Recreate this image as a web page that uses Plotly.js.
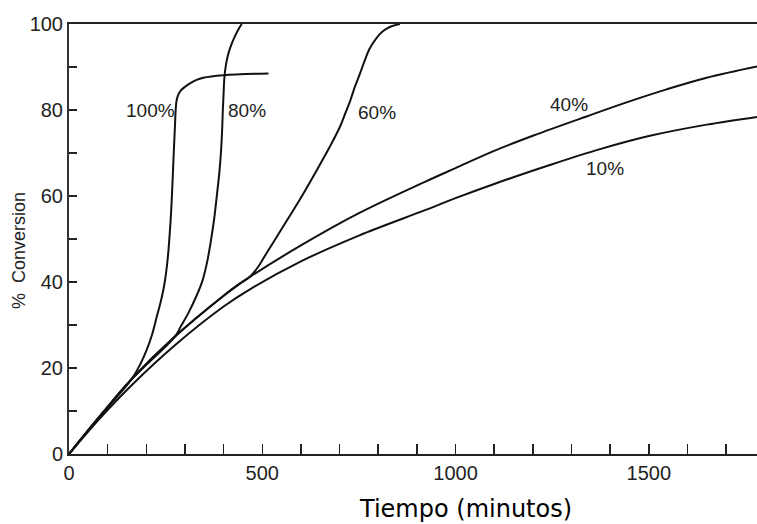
<!DOCTYPE html>
<html>
<head>
<meta charset="utf-8">
<script src="https://cdn.plot.ly/plotly-3.0.1.min.js"></script>
<style>
  html, body { margin: 0; padding: 0; background: #fff; }
  #chart { width: 757px; height: 524px; }
</style>
</head>
<body>
<div id="chart"></div>
<script>
// Conversion (%) versus time (minutes) for each level
const t100 = [0, 80, 162, 185, 201, 215, 227, 237, 245, 251, 256, 260, 264, 267, 270, 272, 274, 276, 278, 282, 290, 300, 313, 330, 347, 399, 516];
const c100 = [0, 8.8, 17.4, 21, 24.2, 27.8, 31.9, 35.3, 38.6, 42, 46, 50.5, 56, 61.5, 68, 72, 76, 80, 82, 83.4, 84.6, 85.4, 86.2, 87, 87.5, 88.1, 88.5];

const t80 = [0, 80, 162, 274, 290, 310, 330, 345, 357, 367, 376, 383, 389, 393, 396, 398, 400, 402, 406, 412, 420, 430, 440, 447];
const c80 = [0, 8.8, 17.4, 27.3, 29.8, 33, 36.8, 40.2, 44.5, 49.5, 55, 60.5, 65.5, 70, 75, 80, 84, 87.5, 90.5, 93, 95.2, 97.3, 99, 100];

const t60 = [0, 80, 162, 274, 400, 440, 468, 490, 511, 554, 600, 641, 675, 701, 716, 727, 740, 753, 765, 778, 796, 812, 830, 856];
const c60 = [0, 8.8, 17.4, 27.3, 36.8, 39.5, 41.2, 43.6, 46.7, 52.9, 59.6, 66, 71.5, 76.1, 79.5, 82, 85.5, 88.5, 91.5, 94.3, 96.8, 98.3, 99.3, 100];

const t40 = [0, 80, 162, 274, 400, 440, 468, 600, 750, 921, 1000, 1100, 1200, 1339, 1450, 1546, 1650, 1780];
const c40 = [0, 8.8, 17.4, 27.3, 36.8, 39.5, 41.2, 48.5, 56, 63.3, 66.5, 70.5, 74, 78.5, 82, 84.8, 87.5, 90.1];

const t10 = [0, 80, 162, 274, 400, 468, 600, 750, 921, 1000, 1100, 1244, 1374, 1503, 1650, 1780];
const c10 = [0, 8.3, 16, 25.3, 34.3, 38.3, 44.8, 50.8, 56.7, 59.5, 62.8, 67.2, 70.9, 74, 76.6, 78.4];

// Curve labels: text, time, conversion
const labelText = ['100%', '80%', '60%', '40%', '10%'];
const labelT = [210, 460, 797, 1294, 1387];
const labelC = [79.8, 79.8, 79.5, 81.3, 66.3];

const xTickVals = [0, 500, 1000, 1500];
const yTickVals = [0, 20, 40, 60, 80, 100];

const lineStyle = { color: '#111', width: 2, shape: 'spline', smoothing: 1 };
const series = [[t10, c10], [t40, c40], [t60, c60], [t80, c80], [t100, c100]];
const traces = series.map(([x, y]) => ({
  x: x, y: y, type: 'scatter', mode: 'lines', line: lineStyle,
  hoverinfo: 'skip', showlegend: false
}));

const labelFont = { family: 'Liberation Sans, Arial, sans-serif', size: 19, color: '#222' };
const annotations = labelText.map((s, i) => ({
  x: labelT[i], y: labelC[i], xref: 'x', yref: 'y', text: s,
  showarrow: false, font: labelFont, xanchor: 'center', yanchor: 'middle'
}));

annotations.push({
  x: 0.5756, y: -0.128, xref: 'paper', yref: 'paper',
  text: 'Tiempo (minutos)', showarrow: false,
  font: { family: 'DejaVu Sans, sans-serif', size: 24, color: '#000' },
  xanchor: 'center', yanchor: 'middle'
});
annotations.push({
  x: -0.073, y: 0.474, xref: 'paper', yref: 'paper',
  text: '%\u00a0\u00a0Conversion', showarrow: false, textangle: -90,
  font: { family: 'Liberation Sans, Arial, sans-serif', size: 18, color: '#222' },
  xanchor: 'center', yanchor: 'middle'
});

const tickFont = { family: 'Liberation Sans, Arial, sans-serif', size: 20, color: '#222' };

const layout = {
  width: 757, height: 524,
  margin: { l: 69, r: 0, t: 24, b: 70, pad: 0 },
  paper_bgcolor: '#fff', plot_bgcolor: '#fff',
  showlegend: false,
  xaxis: {
    range: [0, 1780], showgrid: false, zeroline: false,
    showline: true, linecolor: '#222', linewidth: 2, mirror: true,
    tickmode: 'array', tickvals: xTickVals, ticktext: xTickVals.map(String),
    ticks: 'inside', ticklen: 10, tickwidth: 1.5, tickcolor: '#222',
    minor: { dtick: 100, tick0: 0, ticks: 'inside', ticklen: 10, tickwidth: 1.5, tickcolor: '#222', showgrid: false },
    tickfont: tickFont
  },
  yaxis: {
    range: [0, 100], showgrid: false, zeroline: false,
    showline: true, linecolor: '#333', linewidth: 2,
    tickmode: 'array', tickvals: yTickVals, ticktext: yTickVals.map(String),
    ticks: 'inside', ticklen: 8, tickwidth: 1.5, tickcolor: '#222',
    minor: { dtick: 10, tick0: 0, ticks: 'inside', ticklen: 8, tickwidth: 1.5, tickcolor: '#222', showgrid: false },
    tickfont: tickFont
  },
  annotations: annotations
};

Plotly.newPlot('chart', traces, layout, { staticPlot: true, displayModeBar: false });
</script>
</body>
</html>
